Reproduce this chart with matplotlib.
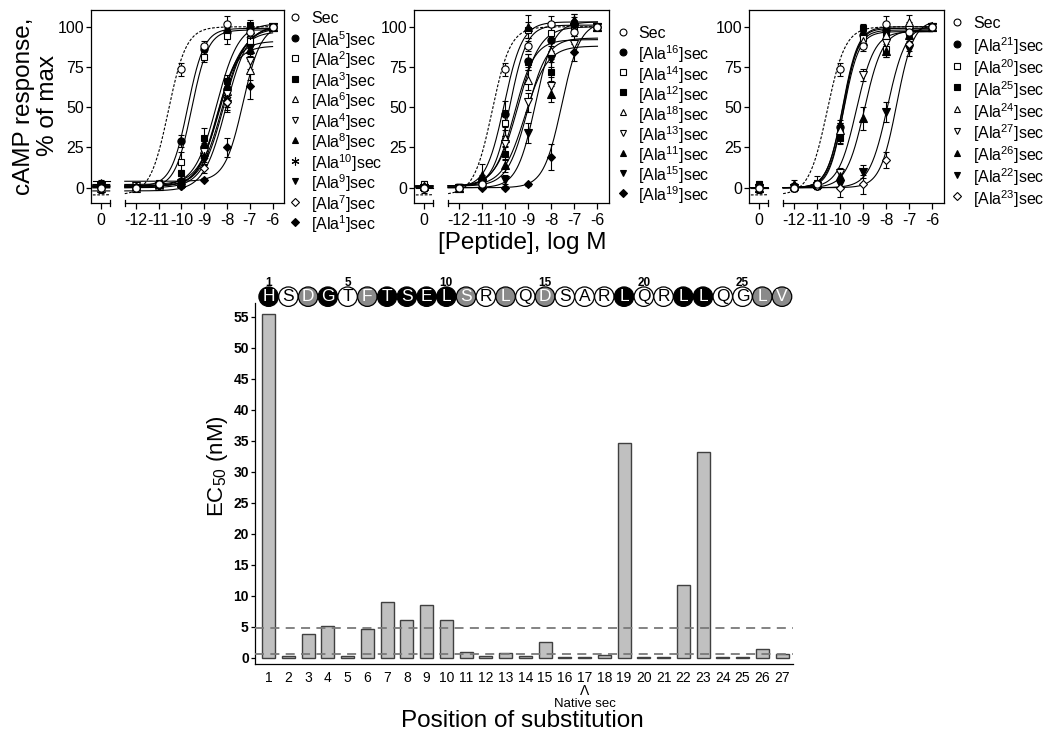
import numpy as np
import matplotlib
matplotlib.use('Agg')
import matplotlib.pyplot as plt
from matplotlib.transforms import blended_transform_factory

plt.rcParams['font.family'] = ['Liberation Sans', 'DejaVu Sans']
plt.rcParams['mathtext.default'] = 'regular'

W, H = 1050, 738
fig = plt.figure(figsize=(W / 100, H / 100), dpi=100)


def fx(px):
    return px / W


def fy(py):
    return 1 - py / H


# ---------------- data: concentration-response panels ----------------
log_conc = [-12, -11, -10, -9, -8, -7, -6]
conc_tick_labels = ['0', '-12', '-11', '-10', '-9', '-8', '-7', '-6']
VEH_X = -13.53          # position of the "0" (vehicle) column on the broken axis

# native secretin (shown in every panel); values: [vehicle, -12 .. -6]
sec_resp = [0, 0, 2, 73.5, 88, 101.5, 97, 100]
sec_err = [3, 1, 1, 4, 3, 5, 3, 0]
sec_fit = (-10.57, 1.1, -4.5, 100)     # logEC50, Hill slope, bottom, top

# panel 1
p1_names = ['[Ala$^{5}$]sec', '[Ala$^{2}$]sec', '[Ala$^{3}$]sec', '[Ala$^{6}$]sec',
            '[Ala$^{4}$]sec', '[Ala$^{8}$]sec', '[Ala$^{10}$]sec', '[Ala$^{9}$]sec',
            '[Ala$^{7}$]sec', '[Ala$^{1}$]sec']
p1_styles = ['of', 'so', 'sf', 'to', 'vo', 'tf', 'st', 'vf', 'do', 'df']
p1_resp = [[2, 1, 2, 29, 86, 97, 99, 100],
           [1, 1, 3, 16, 81, 94, 91, 100],
           [2, 1, 1, 9, 31, 66, 101, 100],
           [0, 0, 1, 3, 24, 60, 73, 100],
           [1, 1, 1, 3, 22, 58, 79, 100],
           [3, 1, 2, 5, 28, 64, 86, 100],
           [1, 1, 1, 2, 20, 55, 95, 100],
           [1, 0, 1, 2, 18, 52, 87, 100],
           [0, 0, 1, 1, 12, 53, 96, 100],
           [0, 0, 1, 1, 5, 25, 63, 100]]
p1_err = [[2, 1, 1, 4, 3, 3, 3, 0],
          [2, 1, 1, 6, 3, 5, 3, 0],
          [2, 1, 1, 2, 6, 4, 3, 0],
          [2, 1, 1, 1, 4, 5, 6, 0],
          [2, 1, 1, 1, 4, 5, 5, 0],
          [2, 1, 1, 1, 4, 4, 4, 0],
          [2, 1, 1, 1, 4, 5, 4, 0],
          [2, 1, 1, 1, 4, 5, 4, 0],
          [2, 1, 1, 1, 3, 5, 3, 0],
          [2, 1, 1, 1, 1, 6, 8, 0]]
p1_logec50 = [-9.72, -9.55, -8.45, -8.45, -8.4, -8.3, -8.2, -8.15, -8.05, -7.3]
p1_hill = [1.2, 1.2, 0.9, 1.0, 1.0, 0.9, 0.9, 0.9, 0.9, 1.1]
p1_bottom = [1, 0, 1, 1, 1, 2, 1, 0, -2, 4]
p1_top = [99, 98, 102, 88, 91, 97, 99, 100, 101, 101]

# panel 2
p2_names = ['[Ala$^{16}$]sec', '[Ala$^{14}$]sec', '[Ala$^{12}$]sec', '[Ala$^{18}$]sec',
            '[Ala$^{13}$]sec', '[Ala$^{11}$]sec', '[Ala$^{15}$]sec', '[Ala$^{19}$]sec']
p2_styles = ['of', 'so', 'sf', 'to', 'vo', 'tf', 'vf', 'df']
p2_resp = [[1, 0, 2, 46, 79, 92, 101, 100],
           [2, 0, 5, 40, 98, 96, 100, 100],
           [0, 0, 2, 21, 78, 72, 102, 100],
           [1, 0, 2, 31, 67, 85, 104, 100],
           [0, 0, 3, 27, 53, 63, 89, 100],
           [1, 0, 8, 14, 100, 58, 104, 100],
           [0, 0, 2, 5, 34, 80, 100, 100],
           [0, 0, 0, 0, 2, 19, 84, 100]]
p2_err = [[2, 2, 2, 8, 4, 4, 3, 0],
          [2, 2, 3, 8, 5, 4, 3, 0],
          [2, 2, 2, 4, 5, 6, 4, 0],
          [2, 2, 2, 5, 6, 5, 4, 0],
          [2, 2, 2, 5, 6, 6, 5, 0],
          [2, 2, 7, 4, 7, 5, 4, 0],
          [2, 2, 2, 3, 6, 5, 4, 0],
          [1, 1, 1, 1, 1, 8, 5, 0]]
p2_logec50 = [-10.05, -9.8, -9.6, -9.45, -9.15, -9.05, -8.7, -7.55]
p2_hill = [1.1, 1.2, 1.0, 0.9, 0.9, 1.0, 1.1, 1.1]
p2_bottom = [0, 1, 1, 1, 1, 1, 0, 0]
p2_top = [103, 101, 92, 100, 88, 93, 103, 103]

# panel 3
p3_names = ['[Ala$^{21}$]sec', '[Ala$^{20}$]sec', '[Ala$^{25}$]sec', '[Ala$^{24}$]sec',
            '[Ala$^{27}$]sec', '[Ala$^{26}$]sec', '[Ala$^{22}$]sec', '[Ala$^{23}$]sec']
p3_styles = ['of', 'so', 'sf', 'to', 'vo', 'tf', 'vf', 'do']
p3_resp = [[1, 0, 1, 38, 95, 98, 99, 100],
           [1, 0, 3, 34, 93, 86, 97, 100],
           [2, 0, 2, 31, 99, 96, 100, 100],
           [0, 1, 2, 36, 91, 95, 103, 100],
           [0, 0, 1, 9, 70, 90, 98, 100],
           [0, 2, 2, 7, 43, 85, 95, 100],
           [0, 0, 1, 2, 10, 47, 86, 100],
           [0, 0, 1, 0, 2, 17, 89, 100]]
p3_err = [[2, 2, 2, 4, 3, 3, 3, 0],
          [2, 2, 4, 6, 4, 5, 3, 0],
          [2, 2, 2, 4, 3, 3, 3, 0],
          [2, 2, 2, 4, 4, 3, 4, 0],
          [2, 2, 2, 3, 4, 4, 3, 0],
          [2, 3, 2, 3, 7, 4, 4, 0],
          [2, 2, 2, 3, 4, 6, 4, 0],
          [2, 2, 2, 6, 6, 5, 4, 0]]
p3_logec50 = [-9.9, -9.85, -9.85, -9.9, -9.3, -8.95, -7.95, -7.55]
p3_hill = [1.3, 1.3, 1.4, 1.3, 1.1, 1.1, 1.1, 1.2]
p3_bottom = [0, 0, 0, 0, 0, 0, 0, 0]
p3_top = [98, 97, 99, 100, 97, 98, 101, 104]

# ---------------- data: EC50 bar chart ----------------
positions = list(range(1, 28))
ec50_nM = [55.4, 0.3, 3.9, 5.1, 0.2, 4.6, 9.0, 6.1, 8.5, 6.1,
           1.0, 0.35, 0.8, 0.2, 2.6, 0.1, 0.05, 0.45, 34.6, 0.15,
           0.15, 11.7, 33.2, 0.15, 0.15, 1.35, 0.55]
threshold_high = 4.85
threshold_low = 0.55
sequence = list("HSDGTFTSELSRLQDSARLQRLLQGLV")
residue_class = ['b', 'w', 'g', 'b', 'w', 'g', 'b', 'b', 'b', 'b',
                 'g', 'w', 'g', 'w', 'g', 'w', 'w', 'w', 'b', 'w',
                 'w', 'b', 'b', 'w', 'w', 'g', 'g']
numbered_positions = [1, 5, 10, 15, 20, 25]
native_position = 17

# ---------------- styles ----------------
STYLE = {
    'oo': dict(marker='o', mfc='white', ms=5.2),
    'of': dict(marker='o', mfc='black', ms=5.2),
    'so': dict(marker='s', mfc='white', ms=4.6),
    'sf': dict(marker='s', mfc='black', ms=4.6),
    'to': dict(marker='^', mfc='white', ms=5.2),
    'vo': dict(marker='v', mfc='white', ms=5.2),
    'tf': dict(marker='^', mfc='black', ms=5.2),
    'vf': dict(marker='v', mfc='black', ms=5.2),
    'st': dict(marker=(6, 2, 0), mfc='black', ms=6),
    'do': dict(marker='D', mfc='white', ms=3.8),
    'df': dict(marker='D', mfc='black', ms=3.8),
}

XL, XR = -13.96, -5.5
YB, YT = -9.5, 110.4
BREAK_L, BREAK_R = -13.14, -12.48


def hill(x, L, h, b, t):
    return b + (t - b) / (1.0 + 10 ** ((L - x) * h))


def draw_panel(ax, names, styles, resp, err, L, Hs, B, T, leg_mx, leg_tx, leg_y0, leg_dy):
    xr = np.linspace(BREAK_R, -6, 300)
    xl = np.linspace(-13.88, BREAK_L, 30)
    all_fits = [sec_fit] + list(zip(L, Hs, B, T))
    for i, fit in enumerate(all_fits):
        ls = (0, (2.5, 1.5)) if i == 0 else '-'
        for xs in (xl, xr):
            ax.plot(xs, hill(xs, *fit), color='black', lw=0.8, ls=ls, zorder=2)
    xs_pts = [VEH_X] + log_conc
    all_resp = [sec_resp] + resp
    all_err = [sec_err] + err
    all_styles = ['oo'] + styles
    order = list(range(1, len(all_resp))) + [0]
    for i in order:
        st = STYLE[all_styles[i]]
        ax.errorbar(xs_pts, all_resp[i], yerr=all_err[i], fmt='none', ecolor='black',
                    elinewidth=0.8, capsize=2.5, capthick=0.8, zorder=3)
        ax.plot(xs_pts, all_resp[i], ls='none', marker=st['marker'], ms=st['ms'],
                mfc=st['mfc'], mec='black', mew=0.8, zorder=4 if i else 5)
    ax.set_xlim(XL, XR)
    ax.set_ylim(YB, YT)
    ax.set_xticks(xs_pts)
    ax.set_xticklabels(conc_tick_labels)
    ax.set_yticks([0, 25, 50, 75, 100])
    ax.set_yticklabels(['0', '25', '50', '75', '100'])
    ax.tick_params(axis='both', direction='out', labelsize=11.5, width=0.9)
    ax.tick_params(axis='y', length=3.5, pad=1.5)
    ax.tick_params(axis='x', length=4, pad=3)
    for s in ax.spines.values():
        s.set_linewidth(0.9)
    ax.spines['bottom'].set_visible(False)
    tr = blended_transform_factory(ax.transData, ax.transAxes)
    for a, b in ((XL, BREAK_L), (BREAK_R, XR)):
        ax.plot([a, b], [0, 0], color='black', lw=0.9, transform=tr, clip_on=False)
    for bx in (BREAK_L, BREAK_R):
        ax.plot([bx, bx], [-0.016, 0.016], color='black', lw=0.9, transform=tr, clip_on=False)
    # legend
    labels = ['Sec'] + names
    for i, (lab, stname) in enumerate(zip(labels, all_styles)):
        st = STYLE[stname]
        yy = fy(leg_y0 + i * leg_dy)
        ax.plot([fx(leg_mx)], [yy], transform=fig.transFigure, clip_on=False, ls='none',
                marker=st['marker'], ms=st['ms'] * 0.95, mfc=st['mfc'], mec='black', mew=0.8)
        fig.text(fx(leg_tx), yy, lab, fontsize=11.5, ha='left', va='center_baseline')


ax1 = fig.add_axes([fx(91), fy(203), 193 / W, 193 / H])
ax2 = fig.add_axes([fx(414), fy(203), 195 / W, 193 / H])
ax3 = fig.add_axes([fx(749), fy(203), 195 / W, 193 / H])

draw_panel(ax1, p1_names, p1_styles, p1_resp, p1_err, p1_logec50, p1_hill, p1_bottom, p1_top,
           295, 311, 17, 20.5)
draw_panel(ax2, p2_names, p2_styles, p2_resp, p2_err, p2_logec50, p2_hill, p2_bottom, p2_top,
           623, 638, 32, 20.1)
draw_panel(ax3, p3_names, p3_styles, p3_resp, p3_err, p3_logec50, p3_hill, p3_bottom, p3_top,
           957, 973, 22, 21.8)

fig.text(fx(36), fy(106), 'cAMP response,\n% of max', rotation=90, ha='center', va='center',
         fontsize=17.5, linespacing=1.1)
fig.text(fx(522), fy(243), '[Peptide], log M', ha='center', va='center', fontsize=17.5)

# ---------------- bar chart ----------------
axb = fig.add_axes([fx(255), fy(664.3), 537.7 / W, 361.3 / H])
axb.bar(positions, ec50_nM, width=0.66, color='#c0c0c0', edgecolor='#404040', linewidth=1.0,
        zorder=2)
axb.axhline(threshold_high, color='#7a7a7a', ls=(0, (5, 3.5)), lw=1.3, zorder=3)
axb.axhline(threshold_low, color='#7a7a7a', ls=(0, (5, 3.5)), lw=1.3, zorder=3)
axb.set_xlim(0.31, 27.54)
axb.set_ylim(-1.06, 57.2)
axb.set_yticks(range(0, 56, 5))
axb.set_yticklabels([str(v) for v in range(0, 56, 5)], fontweight='bold')
axb.set_xticks(positions)
axb.set_xticklabels([str(p) for p in positions])
axb.tick_params(axis='y', direction='out', length=3, width=0.9, labelsize=10, pad=1.5)
axb.tick_params(axis='x', length=0, labelsize=10, pad=5)
axb.spines['top'].set_visible(False)
axb.spines['right'].set_visible(False)
for s in ('left', 'bottom'):
    axb.spines[s].set_linewidth(0.9)

tb = blended_transform_factory(axb.transData, axb.transAxes)
fill_map = {'b': 'black', 'w': 'white', 'g': '#8a8a8a'}
text_map = {'b': 'white', 'w': 'black', 'g': 'white'}
axb.scatter(positions, [1.0175] * len(positions), s=196,
            c=[fill_map[c] for c in residue_class], edgecolors='black', linewidths=0.9,
            transform=tb, clip_on=False, zorder=5)
for p, aa, c in zip(positions, sequence, residue_class):
    axb.text(p, 1.0175, aa, transform=tb, ha='center', va='center', fontsize=12.5,
             color=text_map[c], zorder=6, clip_on=False)
for p in numbered_positions:
    axb.text(p, 1.056, str(p), transform=tb, ha='center', va='center', fontsize=8.5,
             fontweight='bold', clip_on=False)

tf = blended_transform_factory(axb.transData, fig.transFigure)
axb.text(native_position, fy(691), 'Λ', transform=tf, ha='center', va='center', fontsize=10)
axb.text(native_position, fy(704), 'Native sec', transform=tf, ha='center', va='center',
         fontsize=9.5)
fig.text(fx(522), fy(721), 'Position of substitution', ha='center', va='center', fontsize=17.5)
fig.text(fx(217), fy(466), 'EC$_{50}$ (nM)', rotation=90, ha='center', va='center',
         fontsize=16)

fig.savefig('out.png', dpi=100)
